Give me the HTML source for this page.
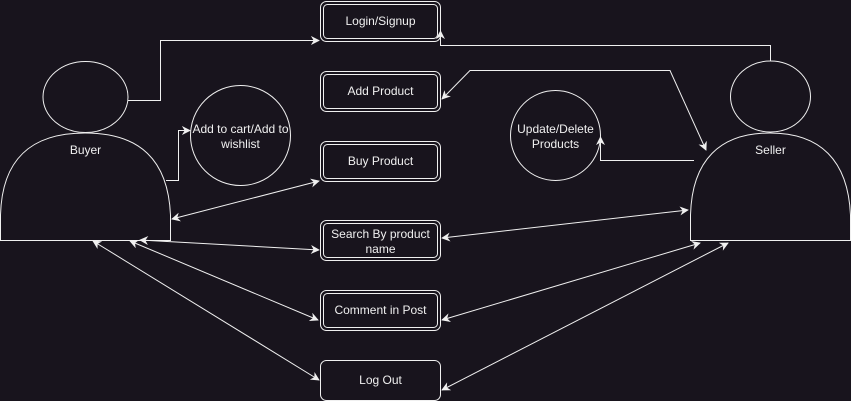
<!DOCTYPE html>
<html><head><meta charset="utf-8"><style>
html,body{margin:0;padding:0;background:#18141d;}
svg{display:block}
text{font-family:"Liberation Sans",sans-serif;font-size:12px;fill:#f0f0f0;text-anchor:middle}
</style></head><body>
<svg width="851" height="401" viewBox="0 0 851 401">
<defs>
<marker id="a" viewBox="0 0 10 10" refX="9" refY="5" markerWidth="9" markerHeight="9" orient="auto-start-reverse" markerUnits="userSpaceOnUse">
<path d="M0,0 L10,5 L0,10 L3,5 Z" fill="#f0f0f0"/>
</marker>
</defs>
<g fill="none" stroke="#f0f0f0" stroke-width="1">
<!-- boxes -->
<rect x="320.5" y="1.5" width="120" height="40" rx="6"/><rect x="323.5" y="4.5" width="114" height="34" rx="4"/>
<rect x="320.5" y="71.5" width="120" height="40" rx="6"/><rect x="323.5" y="74.5" width="114" height="34" rx="4"/>
<rect x="320.5" y="141.5" width="120" height="40" rx="6"/><rect x="323.5" y="144.5" width="114" height="34" rx="4"/>
<rect x="320.5" y="220.5" width="120" height="40" rx="6"/><rect x="323.5" y="223.5" width="114" height="34" rx="4"/>
<rect x="320.5" y="290.5" width="120" height="40" rx="6"/><rect x="323.5" y="293.5" width="114" height="34" rx="4"/>
<rect x="320.5" y="360.5" width="120" height="40" rx="6"/>
<!-- buyer -->
<ellipse cx="85.5" cy="97" rx="42.5" ry="35.5"/>
<path d="M0.5,240.5 L0.5,215 C2,160 30,133 85,133 C140,133 168,160 170.5,215 L170.5,240.5 Z"/>
<!-- seller -->
<ellipse cx="770.5" cy="96.5" rx="40" ry="35.5"/>
<path d="M690.5,240.5 L690.5,215 C692,160 720,133 770,133 C820,133 848,160 850.5,215 L850.5,240.5 Z"/>
<!-- circles -->
<circle cx="240.5" cy="135.5" r="50"/>
<circle cx="555.5" cy="135.5" r="45"/>
<!-- connectors -->
<path d="M128,100.5 H160.5 V40.5 H319" marker-end="url(#a)"/>
<path d="M166,180.5 H178.5 V130.5 H190" marker-end="url(#a)"/>
<path d="M172,219 L319,181" marker-start="url(#a)" marker-end="url(#a)"/>
<path d="M140,240 L319,250" marker-start="url(#a)" marker-end="url(#a)"/>
<path d="M130,241 L318,320" marker-start="url(#a)" marker-end="url(#a)"/>
<path d="M93,241 L319,380" marker-start="url(#a)" marker-end="url(#a)"/>
<path d="M770.5,61 V45.5 H440.5 V31" marker-end="url(#a)"/>
<path d="M442,99 L470,70.5 H670 L706,150" marker-start="url(#a)" marker-end="url(#a)"/>
<path d="M694,160.5 H600.5 V137" marker-end="url(#a)"/>
<path d="M442,238 L688,210" marker-start="url(#a)" marker-end="url(#a)"/>
<path d="M442,320 L700,243" marker-start="url(#a)" marker-end="url(#a)"/>
<path d="M442,390 L728,243" marker-start="url(#a)" marker-end="url(#a)"/>
</g>
<text x="380.5" y="25">Login/Signup</text>
<text x="380.5" y="95">Add Product</text>
<text x="380.5" y="165">Buy Product</text>
<text x="380.5" y="238">Search By product</text>
<text x="380.5" y="253">name</text>
<text x="380.5" y="314">Comment in Post</text>
<text x="380.5" y="384">Log Out</text>
<text x="85.5" y="154">Buyer</text>
<text x="770.5" y="154">Seller</text>
<text x="240.5" y="133">Add to cart/Add to</text>
<text x="240.5" y="148">wishlist</text>
<text x="555.5" y="133">Update/Delete</text>
<text x="555.5" y="148">Products</text>
</svg>
</body></html>
